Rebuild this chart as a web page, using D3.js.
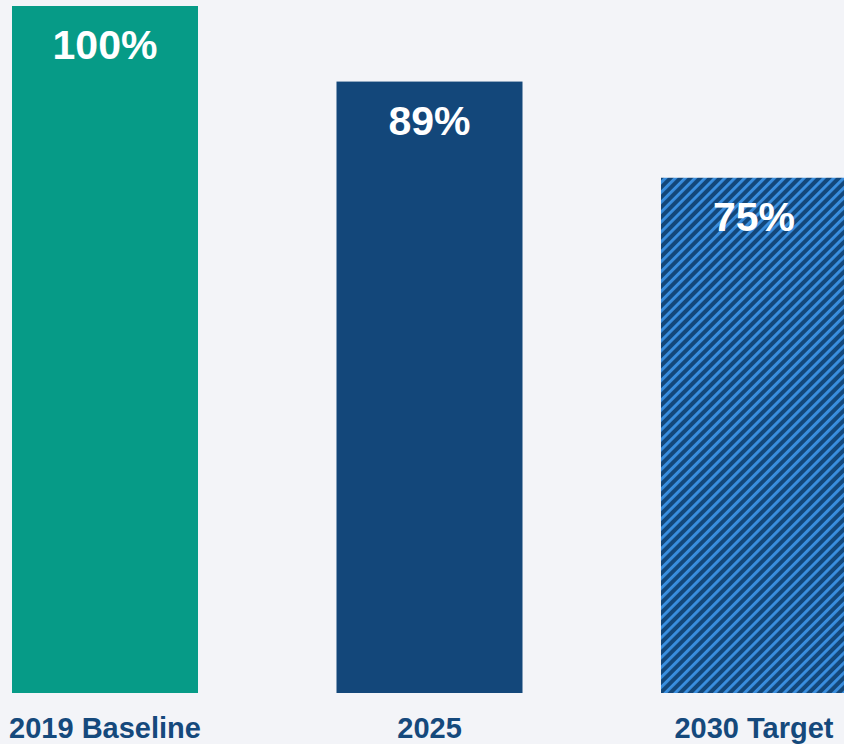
<!DOCTYPE html>
<html>
<head>
<meta charset="utf-8">
<script src="https://cdn.jsdelivr.net/npm/d3@7/dist/d3.min.js"></script>
<style>
  html, body { margin: 0; padding: 0; background: #f3f4f8; overflow: hidden; }
  svg { display: block; }
</style>
</head>
<body>
<svg id="chart" width="844" height="744"></svg>
<script>
// Emissions index relative to the 2019 baseline
const categories = ["2019 Baseline", "2025", "2030 Target"];
const values = [100, 89, 75];
const valueLabels = ["100%", "89%", "75%"];
const fills = ["#069b87", "#13477a", "url(#target-hatch)"];

const svg = d3.select("#chart");
const W = 844, H = 744;

svg.append("rect").attr("width", W).attr("height", H).attr("fill", "#f3f4f8");

// Diagonal stripes for the target bar
const defs = svg.append("defs");
const pat = defs.append("pattern")
  .attr("id", "target-hatch")
  .attr("patternUnits", "userSpaceOnUse")
  .attr("width", 7)
  .attr("height", 7)
  .attr("patternTransform", "rotate(45)");
pat.append("rect").attr("width", 7).attr("height", 7).attr("fill", "#13477a");
pat.append("rect").attr("x", 0).attr("width", 2.9).attr("height", 7).attr("fill", "#3a8fe0");

const x = d3.scaleBand()
  .domain(categories)
  .range([12, 847])
  .paddingInner(138.5 / 324.5)
  .paddingOuter(0);

const y = d3.scaleLinear()
  .domain([0, 100])
  .range([693, 6]);

const data = categories.map((c, i) => ({ cat: c, value: values[i], label: valueLabels[i], fill: fills[i] }));

svg.selectAll("rect.bar")
  .data(data)
  .join("rect")
  .attr("class", "bar")
  .attr("x", d => x(d.cat))
  .attr("y", d => y(d.value))
  .attr("width", x.bandwidth())
  .attr("height", d => y(0) - y(d.value))
  .attr("fill", d => d.fill);

svg.selectAll("text.value")
  .data(data)
  .join("text")
  .attr("class", "value")
  .attr("x", d => x(d.cat) + x.bandwidth() / 2)
  .attr("y", d => y(d.value) + 53)
  .attr("text-anchor", "middle")
  .attr("font-family", "Liberation Sans, Arial, sans-serif")
  .attr("font-weight", "bold")
  .attr("font-size", 41)
  .attr("fill", "#ffffff")
  .text(d => d.label);

// Category axis labels along the bottom
const axis = d3.axisBottom(x).tickSize(0).tickPadding(0);
const g = svg.append("g").attr("transform", `translate(0, 711)`).call(axis);
g.select(".domain").remove();
g.selectAll("text")
  .attr("dy", 0)
  .attr("y", 27)
  .attr("font-family", "Liberation Sans, Arial, sans-serif")
  .attr("font-weight", "bold")
  .attr("font-size", 29)
  .attr("fill", "#15497c");
</script>
</body>
</html>
